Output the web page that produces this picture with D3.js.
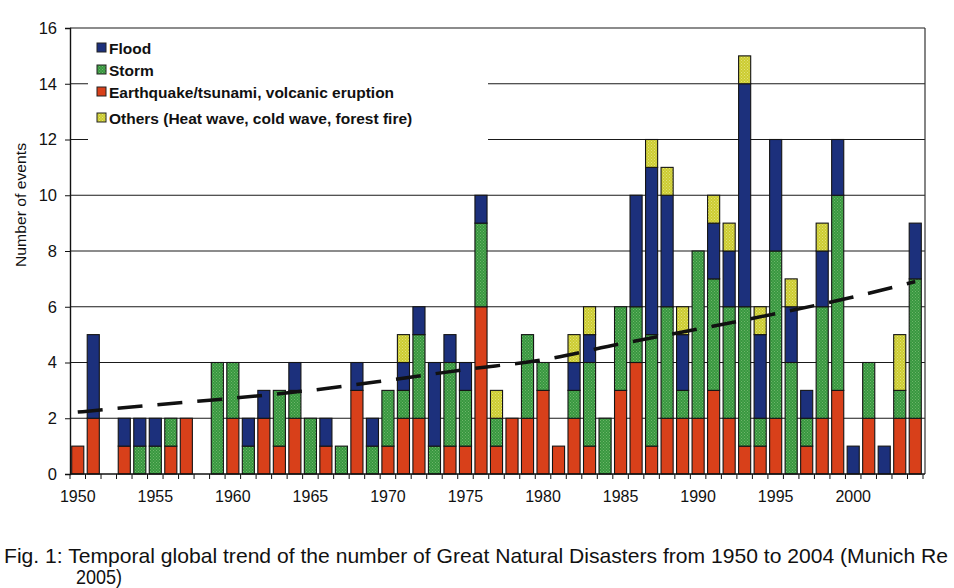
<!DOCTYPE html>
<html><head><meta charset="utf-8">
<script src="https://cdn.jsdelivr.net/npm/d3@7"></script>
<style>
html,body{margin:0;padding:0;background:#fff;}
svg{display:block;}
</style>
</head><body>
<svg id="chart" width="954" height="588"></svg>
<script>
// ---- data ----
const years = d3.range(1950, 2005);
const quake = [1,2,0,1,0,0,1,2,0,0, 2,0,2,1,2,0,1,0,3,0, 1,2,2,0,1,1,6,1,2,2, 3,1,2,1,0,3,4,1,2,2, 2,3,2,1,1,2,0,1,2,3, 0,2,0,2,2];
const storm = [0,0,0,0,1,1,1,0,0,4, 2,1,0,2,1,2,0,1,0,1, 2,1,3,1,3,2,3,1,0,3, 1,0,1,3,2,3,2,4,4,1, 6,4,4,5,1,6,4,1,4,7, 0,2,0,1,5];
const flood = [0,3,0,1,1,1,0,0,0,0, 0,1,1,0,1,0,1,0,1,1, 0,1,1,3,1,1,1,0,0,0, 0,0,1,1,0,0,4,6,4,2, 0,2,2,8,3,4,2,1,2,2, 1,0,1,0,2];
const others = [0,0,0,0,0,0,0,0,0,0, 0,0,0,0,0,0,0,0,0,0, 0,1,0,0,0,0,0,1,0,0, 0,0,1,1,0,0,0,1,1,1, 0,1,1,1,1,0,1,0,1,0, 0,0,0,2,0];
const trendYears = [1950,1955,1960,1965,1970,1975,1980,1985,1990,1995,2000,2004];
const trendValues = [2.22,2.48,2.72,3.0,3.36,3.75,4.1,4.67,5.2,5.75,6.35,6.9];
const yTicks = [0,2,4,6,8,10,12,14,16];
const xLabelYears = [1950,1955,1960,1965,1970,1975,1980,1985,1990,1995,2000];
const seriesKeys = ["quake","storm","flood","others"];
const legendItems = [
  {key:"flood", label:"Flood"},
  {key:"storm", label:"Storm"},
  {key:"quake", label:"Earthquake/tsunami, volcanic eruption"},
  {key:"others", label:"Others (Heat wave, cold wave, forest fire)"}
];
const captionLine1 = "Fig. 1: Temporal global trend of the number of Great Natural Disasters from 1950 to 2004 (Munich Re";
const captionLine2 = "2005)";
const yTitle = "Number of events";

// ---- layout ----
const svg = d3.select("#chart");
const mLeft = 70, mRight = 923, mTop = 28, mBottom = 474;

const table = years.map((yr,i)=>({year:yr, quake:quake[i], storm:storm[i], flood:flood[i], others:others[i]}));
const stack = d3.stack().keys(seriesKeys)(table);

const x = d3.scaleBand().domain(years).range([mLeft, mRight]).paddingInner(0.22).paddingOuter(0.11);
const y = d3.scaleLinear().domain([0,16]).range([mBottom, mTop]);

// patterns
const defs = svg.append("defs");
function dotPattern(id, base, dot){
  const p = defs.append("pattern").attr("id", id).attr("patternUnits","userSpaceOnUse").attr("width",3).attr("height",3);
  p.append("rect").attr("width",3).attr("height",3).attr("fill",base);
  p.append("rect").attr("x",0).attr("y",0).attr("width",1).attr("height",1).attr("fill",dot);
  p.append("rect").attr("x",1.5).attr("y",1.5).attr("width",1).attr("height",1).attr("fill",dot);
}
dotPattern("pStorm", "#38983f", "#6fb56c");
dotPattern("pOthers", "#cccc30", "#e2e27a");
const fills = {quake:"#d8401a", storm:"url(#pStorm)", flood:"#1c307c", others:"url(#pOthers)"};

// gridlines
svg.append("g").selectAll("line").data(yTicks.filter(d=>d>0)).join("line")
  .attr("x1", mLeft).attr("x2", mRight+2)
  .attr("y1", d=>y(d)).attr("y2", d=>y(d))
  .attr("stroke", "#1a1a1a").attr("stroke-width", 1.2);

// right border
svg.append("line").attr("x1", mRight+2).attr("x2", mRight+2).attr("y1", y(16)).attr("y2", y(0))
  .attr("stroke","#333").attr("stroke-width",1.2);

// legend box (white, hides gridlines)
svg.append("rect").attr("x", 88).attr("y", 32).attr("width", 400).attr("height", 112).attr("fill", "#fff");

// bars
svg.append("g").selectAll("g").data(stack).join("g")
  .attr("fill", d=>fills[d.key])
  .selectAll("rect").data(d=>d.filter(s=>s[1]-s[0]>0)).join("rect")
  .attr("x", d=>x(d.data.year))
  .attr("width", x.bandwidth())
  .attr("y", d=>y(d[1]))
  .attr("height", d=>y(d[0])-y(d[1]))
  .attr("stroke", "#141414").attr("stroke-width", 1.1);

// trend line
const line = d3.line().x(d=>x(d[0]) + x.bandwidth()/2).y(d=>y(d[1])).curve(d3.curveMonotoneX);
svg.append("path").datum(trendYears.map((yr,i)=>[yr, trendValues[i]]))
  .attr("d", line).attr("fill","none").attr("stroke","#111").attr("stroke-width",3.5)
  .attr("stroke-dasharray","25,15");

// y axis
const yAxis = svg.append("g").attr("transform", `translate(${mLeft},0)`)
  .call(d3.axisLeft(y).tickValues(yTicks).tickSize(5).tickPadding(8).tickFormat(d3.format("d")));
yAxis.select(".domain").attr("stroke","#111").attr("stroke-width",1.4);
yAxis.selectAll(".tick line").attr("stroke","#111");
yAxis.selectAll("text").attr("font-family","'Liberation Sans', Arial, sans-serif").attr("font-size",16.5).attr("fill","#111");

// x axis: ticks at slot boundaries
const step = x.step();
const xAxisG = svg.append("g");
xAxisG.append("line").attr("x1", mLeft).attr("x2", mRight+2).attr("y1", mBottom).attr("y2", mBottom)
  .attr("stroke","#111").attr("stroke-width",1.4);
xAxisG.selectAll("line.tk").data(years.concat([2005])).join("line").attr("class","tk")
  .attr("x1", d=> d===2005 ? mRight : x(d) - (step - x.bandwidth())/2)
  .attr("x2", d=> d===2005 ? mRight : x(d) - (step - x.bandwidth())/2)
  .attr("y1", mBottom).attr("y2", mBottom+5).attr("stroke","#111").attr("stroke-width",1);
xAxisG.selectAll("text").data(xLabelYears).join("text")
  .attr("x", d=>x(d)+x.bandwidth()/2).attr("y", mBottom+28)
  .attr("text-anchor","middle")
  .attr("font-family","'Liberation Sans', Arial, sans-serif").attr("font-size",16).attr("fill","#111")
  .text(d=>d);

// y title
svg.append("text").attr("transform", `translate(26,205) rotate(-90)`)
  .attr("text-anchor","middle")
  .attr("font-family","'Liberation Sans', Arial, sans-serif").attr("font-size",15).attr("fill","#111")
  .attr("textLength", 124).attr("lengthAdjust","spacingAndGlyphs")
  .text(yTitle);

// legend
const lg = svg.append("g");
const lgY = [48, 70, 92, 118];
legendItems.forEach((it,i)=>{
  lg.append("rect").attr("x", 97).attr("y", lgY[i]-5).attr("width", 9).attr("height", 9)
    .attr("fill", fills[it.key]).attr("stroke","#222").attr("stroke-width",1);
  lg.append("text").attr("x", 109).attr("y", lgY[i]+5.5)
    .attr("font-family","'Liberation Sans', Arial, sans-serif").attr("font-weight","bold")
    .attr("font-size",15.5).attr("fill","#111").text(it.label);
});

// caption
svg.append("text").attr("x", 4).attr("y", 563)
  .attr("font-family","'Liberation Sans Narrow', 'Arial Narrow', 'Liberation Sans', sans-serif")
  .attr("font-size",21).attr("fill","#111")
  .attr("textLength", 944).attr("lengthAdjust","spacingAndGlyphs")
  .text(captionLine1);
svg.append("text").attr("x", 76).attr("y", 584)
  .attr("font-family","'Liberation Sans Narrow', 'Arial Narrow', 'Liberation Sans', sans-serif")
  .attr("font-size",21).attr("fill","#111")
  .attr("textLength", 46).attr("lengthAdjust","spacingAndGlyphs")
  .text(captionLine2);
</script>
</body></html>
